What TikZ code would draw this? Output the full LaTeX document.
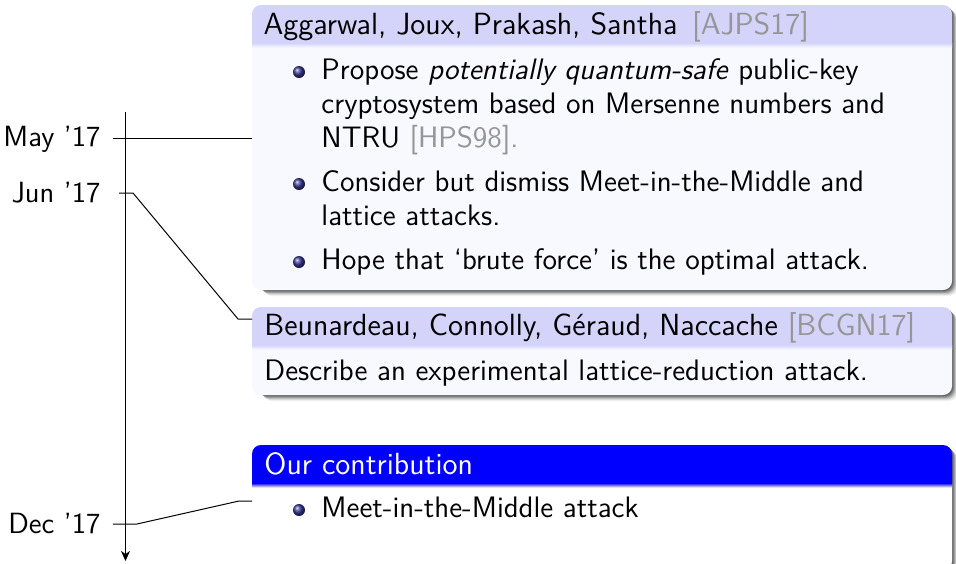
\documentclass[tikz,border=0pt]{standalone}
\usepackage{fontspec}
\usetikzlibrary{arrows.meta}
\definecolor{hdr}{RGB}{212,212,250}
\definecolor{bdy}{RGB}{248,248,255}
\definecolor{citegray}{RGB}{150,150,150}
\definecolor{ballblue}{RGB}{55,55,150}
\definecolor{ourblue}{RGB}{0,0,255}
\tikzset{
  blk/.style={anchor=north west, minimum width=280pt, inner sep=0pt, outer sep=0pt, draw=none},
  txt/.style={font=\fontsize{11.85}{14}\selectfont\sffamily, inner sep=0pt, anchor=base west},
  hd/.style={font=\fontsize{12.25}{14.6}\selectfont\sffamily, inner sep=0pt, anchor=base west},
  lbl/.style={font=\fontsize{11.7}{14}\selectfont\sffamily, inner sep=0pt, anchor=base east},
  conn/.style={line width=0.4pt, black},
}
\newcommand\drawblk[3]{%
  \foreach \k/\op in {1/0.22,2/0.2,3/0.16,4/0.12,5/0.08,6/0.05}
    \fill[black,opacity=\op,rounded corners=3.6pt]
      ([shift={(\k*0.4pt+2pt,-\k*0.4pt)}]#1.north west) rectangle ([shift={(\k*0.4pt,-\k*0.4pt)}]#1.south east);
  \begin{scope}
    \clip (#1.north west) rectangle ([yshift=-15.2pt]#1.north east);
    \fill[#2,rounded corners=3.6pt] (#1.north west) rectangle ([yshift=-30pt]#1.north east);
  \end{scope}
  \begin{scope}
    \clip ([yshift=-15.2pt]#1.north west) rectangle (#1.south east);
    \fill[#3,rounded corners=3.6pt] (#1.north west) rectangle (#1.south east);
  \end{scope}
  \shade[top color=#2,bottom color=#3] ([yshift=-15.2pt]#1.north west) rectangle ([yshift=-17pt]#1.north east);
}
\newcommand\bball[2]{\shade[ball color=ballblue] (#1,#2) circle[radius=2.4pt];}
\begin{document}
\begin{tikzpicture}[x=0.4pt,y=-0.4pt]
\useasboundingbox (0,0) rectangle (956,563);
\fill[white] (0,0) rectangle (956,563);

% block frames
\node[blk, minimum height=114pt] (A) at (252,5) {};
\node[blk, minimum height=35.2pt] (B) at (252,307) {};
\node[blk, minimum height=50pt] (C) at (252,445) {};

\drawblk{A}{hdr}{bdy}
\drawblk{B}{hdr}{bdy}
\drawblk{C}{ourblue}{white}

% block A texts
\node[hd] (Ah) at (263,34) {Aggarwal, Joux, Prakash, Santha\hspace{0.15em} {\color{citegray}[AJPS17]}};
\bball{299}{72}
\node[txt] (A1) at (321,79) {Propose \textit{potentially quantum-safe} public-key};
\node[txt] (A2) at (321,113) {cryptosystem based on Mersenne numbers and};
\node[txt] (A3) at (321,147) {NTRU {\color{citegray}[HPS98].}};
\bball{299}{184}
\node[txt] (A4) at (321,191) {Consider but dismiss Meet-in-the-Middle and};
\node[txt] (A5) at (321,225) {lattice attacks.};
\bball{299}{262}
\node[txt] (A6) at (321,269) {Hope that `brute force' is the optimal attack.};

% block B texts
\node[hd] (Bh) at (264,335) {Beunardeau, Connolly, Géraud, Naccache {\color{citegray}[BCGN17]}};
\node[txt] (B1) at (264,380) {Describe an experimental lattice-reduction attack.};

% block C texts
\node[hd, text=white] (Ch) at (264,474) {Our contribution};
\bball{299}{510}
\node[txt] (C1) at (321,517) {Meet-in-the-Middle attack};

% timeline
\coordinate (axtop) at (125.5,112);
\coordinate (axbot) at (125.5,561);
\draw[conn,-{Stealth[length=4pt,width=3.6pt,inset=1.2pt]}] (axtop) -- (axbot);

\node[lbl] (may) at (101,146) {May '17};
\node[lbl] (jun) at (101,202) {Jun '17};
\node[lbl] (dec) at (101,533) {Dec '17};

\coordinate (mayL) at (113,138);
\coordinate (junL) at (119,193);
\coordinate (junR) at (133,193);
\coordinate (junK) at (238,319);
\coordinate (decL) at (113,524);
\coordinate (decR) at (137,524);
\coordinate (decK) at (239,501);

\draw[conn] (mayL) -- (A.west |- mayL);
\draw[conn] (junL) -- (junR) -- (junK) -- (B.west |- junK);
\draw[conn] (decL) -- (decR) -- (decK) -- (C.west |- decK);
\end{tikzpicture}
\end{document}
